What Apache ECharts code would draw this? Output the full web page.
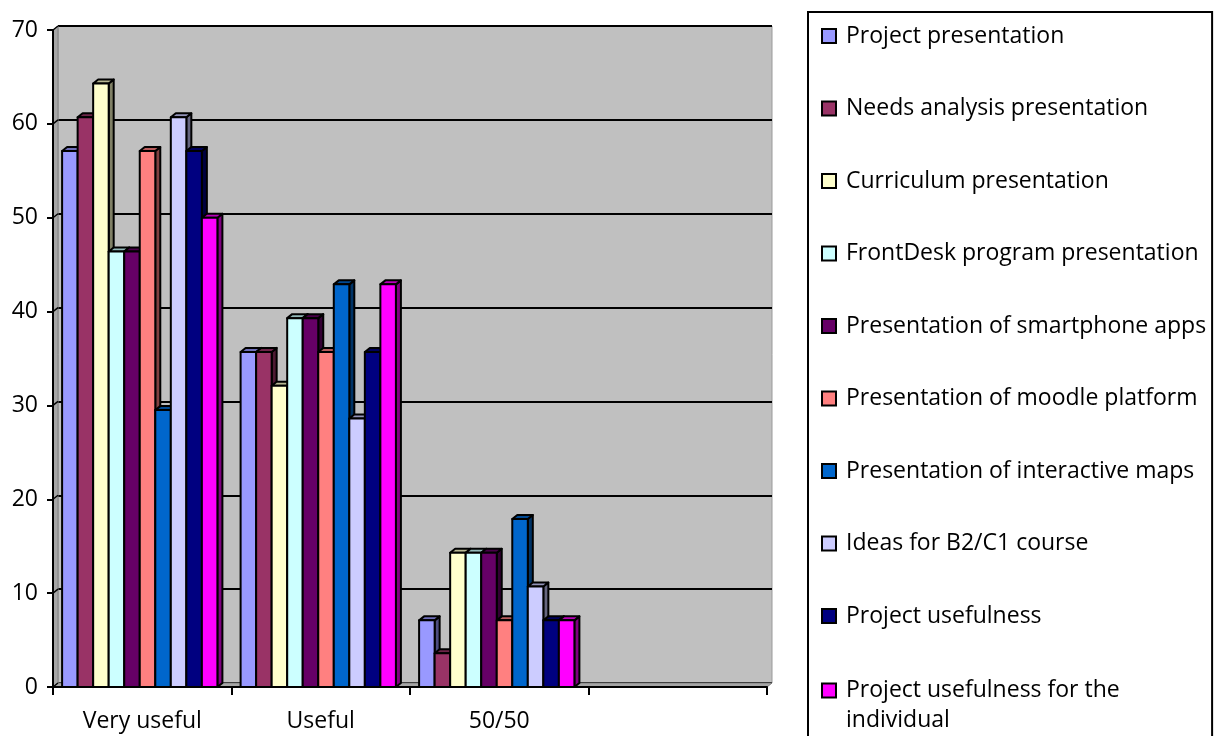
<!DOCTYPE html>
<html>
<head>
<meta charset="utf-8">
<title>Usefulness of the presentations</title>
<script src="https://cdn.jsdelivr.net/npm/echarts@6/dist/echarts.min.js"></script>
<style>
  html, body { margin: 0; padding: 0; background: #fff; }
  #chart { width: 1215px; height: 736px; }
</style>
</head>
<body>
<div id="chart"></div>
<script>
// Answer categories (the fourth slot is left empty)
const categories = ['Very useful', 'Useful', '50/50', ''];

// Share of answers (%) per item, in category order
const projectPresentation   = [57.1, 35.7, 7.1];
const needsAnalysis         = [60.7, 35.7, 3.6];
const curriculum            = [64.3, 32.1, 14.3];
const frontDesk             = [46.4, 39.3, 14.3];
const smartphoneApps        = [46.4, 39.3, 14.3];
const moodlePlatform        = [57.1, 35.7, 7.1];
const interactiveMaps       = [29.5, 42.9, 17.9];
const ideasB2C1             = [60.7, 28.6, 10.7];
const projectUsefulness     = [57.1, 35.7, 7.1];
const usefulnessIndividual  = [50.0, 42.9, 7.1];

const seriesNames = [
  'Project presentation',
  'Needs analysis presentation',
  'Curriculum presentation',
  'FrontDesk program presentation',
  'Presentation of smartphone apps',
  'Presentation of moodle platform',
  'Presentation of interactive maps',
  'Ideas for B2/C1 course',
  'Project usefulness',
  'Project usefulness for the individual'
];
const seriesValues = [
  projectPresentation, needsAnalysis, curriculum, frontDesk, smartphoneApps,
  moodlePlatform, interactiveMaps, ideasB2C1, projectUsefulness, usefulnessIndividual
];
const seriesColors = [
  '#9999FF', '#993366', '#FFFFCC', '#CCFFFF', '#660066',
  '#FF8080', '#0066CC', '#CCCCFF', '#000080', '#FF00FF'
];

// Y axis scale
const yMin = 0, yMax = 70, yStep = 10;

// Plot frame and 3D depth offset
const FRAME = { left: 53, top: 30, right: 767, bottom: 687 };
const DEPTH = { x: 5, y: -4 };
const GROUP_RATIO = 0.87;
const FONT = '"Open Sans", "Noto Sans", sans-serif';
const FONT_SIZE = 23;

// Legend geometry
const LEGEND_LEFT = 808, LEGEND_TOP = 12;
const LEGEND_LINE = 30, LEGEND_GAP = 42.5;

function shade(hex, k) {
  const n = parseInt(hex.slice(1), 16);
  const r = Math.round(((n >> 16) & 255) * k);
  const g = Math.round(((n >> 8) & 255) * k);
  const b = Math.round((n & 255) * k);
  return 'rgb(' + r + ',' + g + ',' + b + ')';
}

function barRenderer(idx) {
  const color = seriesColors[idx];
  const topColor = shade(color, 0.72);
  const sideColor = shade(color, 0.5);
  const count = seriesNames.length;
  return function (params, api) {
    const cat = api.value(0);
    const val = api.value(1);
    const base = api.coord([cat, 0]);
    const head = api.coord([cat, val]);
    const band = api.size([1, 0])[0];
    const groupW = band * GROUP_RATIO;
    const w = groupW / count;
    const x0 = base[0] - (groupW + DEPTH.x) / 2 + idx * w;
    const x1 = x0 + w;
    const yb = base[1], yt = head[1];
    const stroke = { stroke: '#000', lineWidth: 2, lineJoin: 'round' };
    return {
      type: 'group',
      children: [
        {
          type: 'polygon',
          shape: { points: [[x1, yb], [x1, yt], [x1 + DEPTH.x, yt + DEPTH.y], [x1 + DEPTH.x, yb + DEPTH.y]] },
          style: Object.assign({ fill: sideColor }, stroke)
        },
        {
          type: 'polygon',
          shape: { points: [[x0, yt], [x0 + DEPTH.x, yt + DEPTH.y], [x1 + DEPTH.x, yt + DEPTH.y], [x1, yt]] },
          style: Object.assign({ fill: topColor }, stroke)
        },
        {
          type: 'rect',
          shape: { x: x0, y: yt, width: w, height: yb - yt },
          style: Object.assign({ fill: color }, stroke)
        }
      ]
    };
  };
}

const series = seriesNames.map(function (name, i) {
  return {
    type: 'custom',
    name: name,
    xAxisIndex: 0,
    yAxisIndex: 0,
    itemStyle: { color: seriesColors[i] },
    renderItem: barRenderer(i),
    encode: { x: 0, y: 1 },
    data: seriesValues[i].map(function (v, c) { return [c, v]; })
  };
});

const W = 1215, H = 736;

const legendText = { color: '#000', fontSize: FONT_SIZE, fontFamily: FONT, lineHeight: LEGEND_LINE, padding: [0, 0, 0, 5], width: 360, overflow: 'none' };
const lastName = seriesNames[seriesNames.length - 1];
const firstNames = seriesNames.slice(0, -1);
// position of the wrapped entry: one step below the ninth entry, with its blank lead line above
const lastItemTop = LEGEND_TOP + 11 + firstNames.length * (LEGEND_LINE + LEGEND_GAP) - LEGEND_LINE;

const chart = echarts.init(document.getElementById('chart'), null, { renderer: 'canvas' });

const option = {
  backgroundColor: '#ffffff',
  animation: false,
  textStyle: { fontFamily: FONT },
  grid: [
    {
      // front plane: axes and bars
      left: FRAME.left, top: FRAME.top,
      right: W - FRAME.right, bottom: H - FRAME.bottom,
      show: false
    },
    {
      // back wall, shifted by the depth offset
      left: FRAME.left + DEPTH.x, top: FRAME.top + DEPTH.y,
      right: W - FRAME.right - DEPTH.x, bottom: H - FRAME.bottom - DEPTH.y,
      show: true, backgroundColor: '#C0C0C0', borderColor: '#9a9a9a', borderWidth: 1,
      z: 0
    }
  ],
  xAxis: [
    {
      type: 'category', gridIndex: 0, data: categories, boundaryGap: true,
      axisLine: { lineStyle: { color: '#000', width: 2 } },
      axisTick: { show: true, interval: 0, alignWithLabel: false, length: 8, lineStyle: { color: '#000', width: 2 } },
      axisLabel: { color: '#000', fontSize: FONT_SIZE, fontFamily: FONT, margin: 23, interval: 0 },
      splitLine: { show: false },
      z: 5
    },
    {
      type: 'category', gridIndex: 1, data: categories,
      axisLine: { show: false }, axisTick: { show: false }, axisLabel: { show: false },
      splitLine: { show: false }
    }
  ],
  yAxis: [
    {
      type: 'value', gridIndex: 0, min: yMin, max: yMax, interval: yStep,
      axisLine: { show: true, lineStyle: { color: '#000', width: 2 } },
      axisTick: { show: true, length: 6, lineStyle: { color: '#000', width: 2 } },
      axisLabel: { color: '#000', fontSize: FONT_SIZE, fontFamily: FONT, margin: 15 },
      splitLine: { show: false },
      z: 5
    },
    {
      type: 'value', gridIndex: 1, min: yMin, max: yMax, interval: yStep,
      axisLine: { show: false }, axisTick: { show: false }, axisLabel: { show: false },
      splitLine: { show: true, lineStyle: { color: '#000', width: 2 } }
    }
  ],
  legend: [
    {
      // framed list; its box runs past the bottom edge
      orient: 'vertical',
      left: LEGEND_LEFT, top: LEGEND_TOP, height: 1000,
      padding: [9, 6, 130, 13],
      backgroundColor: '#ffffff',
      borderColor: '#000', borderWidth: 2,
      itemWidth: 14, itemHeight: 14, itemGap: LEGEND_GAP,
      icon: 'rect',
      itemStyle: { borderColor: '#000', borderWidth: 2 },
      selectedMode: false,
      textStyle: legendText,
      data: firstNames,
      z: 4
    },
    {
      // last entry, wrapped onto two lines with the icon on the first line
      orient: 'vertical',
      left: LEGEND_LEFT, top: lastItemTop, height: 200,
      padding: [0, 6, 0, 13],
      itemWidth: 14, itemHeight: 14,
      icon: 'rect',
      itemStyle: { borderColor: '#000', borderWidth: 2 },
      selectedMode: false,
      textStyle: legendText,
      formatter: function () {
        return '\nProject usefulness for the\nindividual';
      },
      data: [lastName],
      z: 6
    }
  ],
  series: series
};

chart.setOption(option);

// side wall and floor of the plot box
const p0 = chart.convertToPixel({ gridIndex: 0 }, [0, yMin]);
const pTop = chart.convertToPixel({ gridIndex: 0 }, [0, yMax]);
const leftX = FRAME.left, rightX = FRAME.right;
const floorY = p0[1], topY = pTop[1];
const wallLines = [];
for (let v = yMin; v <= yMax; v += yStep) {
  const y = chart.convertToPixel({ yAxisIndex: 0 }, v);
  wallLines.push({
    type: 'line', z: 1,
    shape: { x1: leftX, y1: y, x2: leftX + DEPTH.x, y2: y + DEPTH.y },
    style: { stroke: '#000', lineWidth: 1.5 }
  });
}
chart.setOption({
  graphic: [
    {
      type: 'polygon', z: 0,
      shape: { points: [[leftX, floorY], [leftX, topY], [leftX + DEPTH.x, topY + DEPTH.y], [leftX + DEPTH.x, floorY + DEPTH.y]] },
      style: { fill: '#A6A6A6', stroke: '#808080', lineWidth: 1 }
    },
    {
      type: 'polygon', z: 0,
      shape: { points: [[leftX, floorY], [leftX + DEPTH.x, floorY + DEPTH.y], [rightX + DEPTH.x, floorY + DEPTH.y], [rightX, floorY]] },
      style: { fill: '#A6A6A6', stroke: '#808080', lineWidth: 1 }
    }
  ].concat(wallLines)
});
</script>
</body>
</html>
